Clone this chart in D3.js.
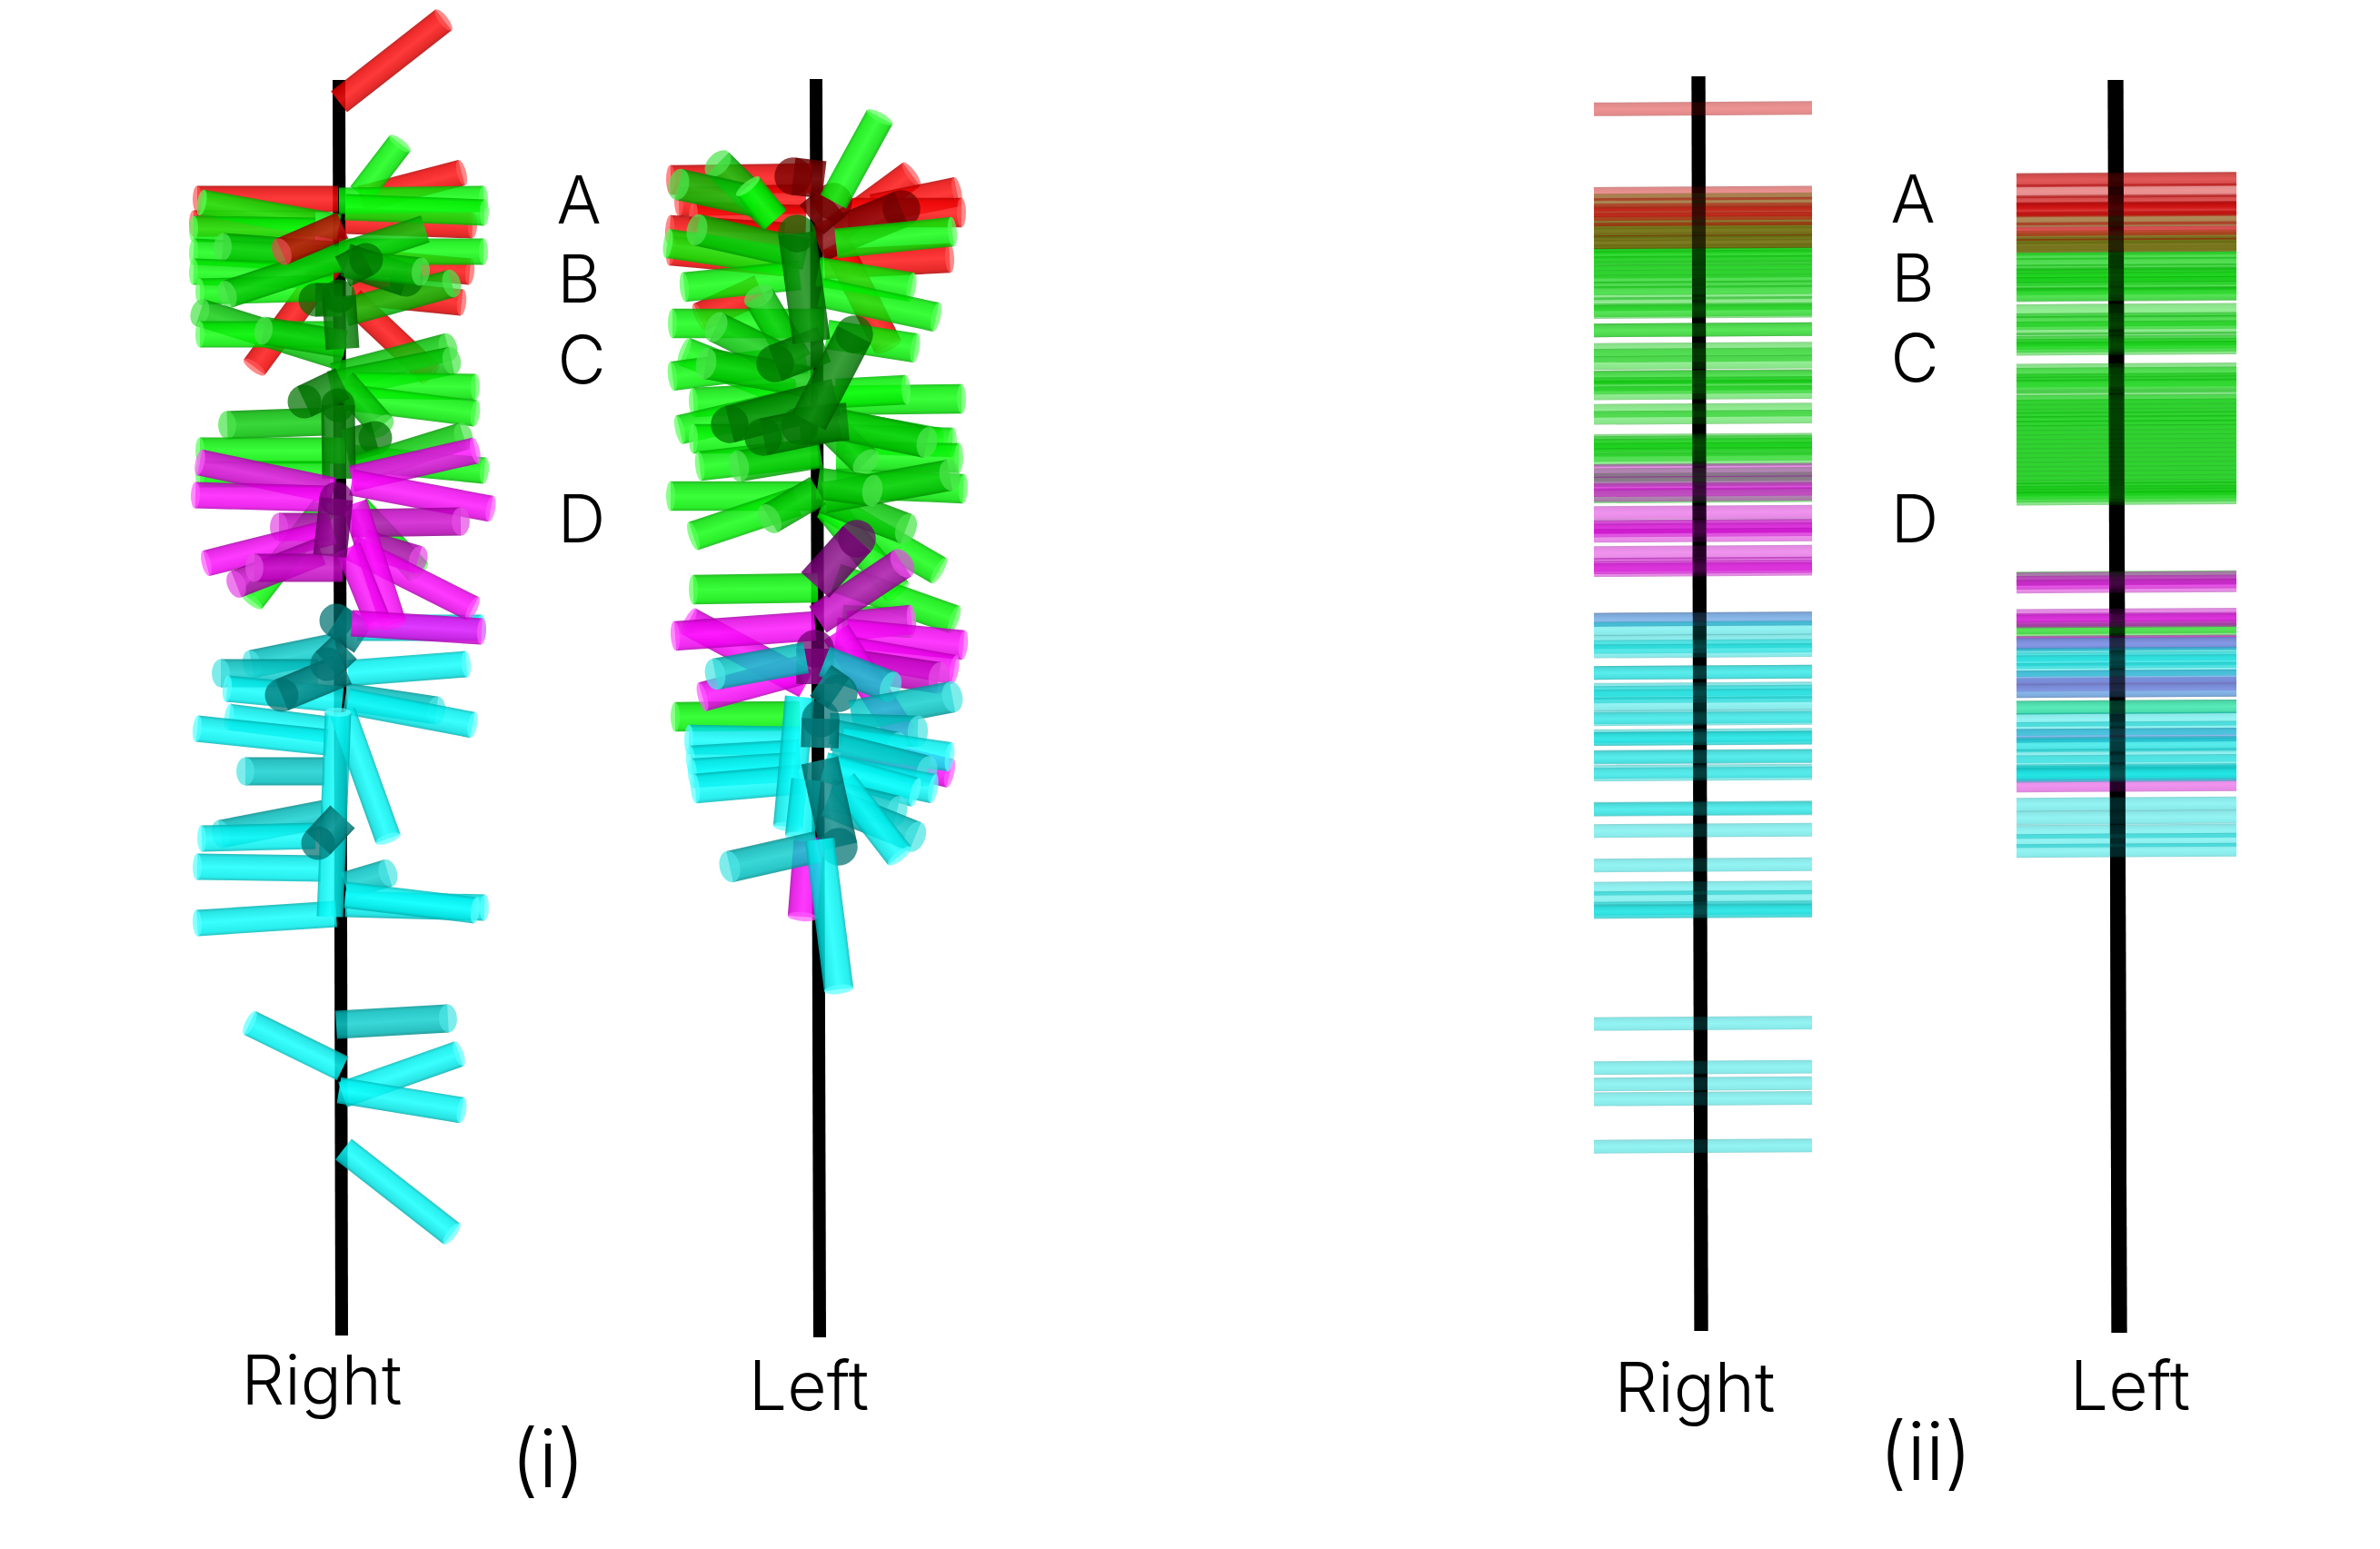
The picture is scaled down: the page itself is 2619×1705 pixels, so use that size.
<!DOCTYPE html>
<html>
<head>
<meta charset="utf-8">
<script src="https://cdn.jsdelivr.net/npm/d3@7"></script>
<style>
html, body { margin: 0; padding: 0; background: #fff; }
text { font-family: Inter, "Noto Sans", sans-serif; font-weight: 300; fill: #000; }
</style>
</head>
<body>
<script>
// Units: y = distance along the stem from the top, x = signed reach away from the stem.
// Each stalk is [tipX, tipY, baseX, baseY, facing], facing 0 = side on, 1 = tilted, 2 = towards the viewer.
const rightRed = [
    [113, -58, -2, 32, 0],
    [-158, 139, -3, 139, 0], [133, 110, 22, 139, 0], [-162, 166, -28, 166, 0], [145, 168, 5, 163, 0],
    [142, 219, 45, 210, 0], [133, 253, 12, 241, 0], [-95, 324, -8, 206, 0], [98, 331, 12, 250, 0]
];
const rightGreen = [
    [65, 78, 22, 134, 0], [157, 139, -2, 141, 0], [158, 154, 5, 148, 0], [-153, 143, -2, 170, 0],
    [-162, 172, -28, 174, 0], [-162, 197, 5, 206, 0], [-130, 192, -8, 201, 1], [157, 197, -2, 197, 0],
    [-162, 219, -8, 224, 0], [-155, 241, -8, 237, 0], [-125, 244, 93, 172, 1], [122, 232, 5, 264, 1],
    [72, 228, 5, 206, 2], [88, 219, 5, 210, 1], [-155, 264, 2, 313, 1], [-155, 288, -8, 288, 0],
    [-85, 284, 5, 299, 1], [118, 302, -8, 335, 1], [122, 317, -12, 344, 1], [148, 346, 18, 344, 0],
    [148, 375, 5, 357, 0], [-125, 388, -18, 384, 1], [-155, 416, 5, 416, 0], [158, 438, 12, 424, 0],
    [-155, 442, -12, 442, 0], [-98, 581, -18, 478, 0], [85, 549, 18, 478, 0], [45, 389, 2, 340, 1],
    [38, 402, 5, 411, 2], [135, 400, 12, 438, 1], [28, 206, 2, 219, 2], [-28, 250, 2, 250, 2],
    [-40, 362, 2, 342, 2], [-2, 246, 2, 304, 2], [-3, 366, -2, 447, 2]
];
const rightRedFront = [[-65, 197, 2, 168, 1]];
const rightMagenta = [
    [148, 416, 12, 447, 0], [-155, 429, -8, 460, 0], [-160, 465, -15, 469, 0], [165, 480, 12, 451, 0],
    [132, 494, 12, 496, 1], [-68, 500, -12, 500, 1], [-148, 540, -8, 505, 0], [85, 536, 25, 518, 1],
    [-115, 563, -22, 527, 1], [145, 590, 12, 523, 0], [58, 607, 15, 474, 0], [42, 607, 8, 523, 0],
    [155, 615, 12, 606, 0], [-95, 545, 2, 545, 1], [-5, 469, -12, 532, 2]
];
const rightCyan = [
    [155, 611, 18, 611, 0], [-98, 651, -5, 632, 1], [-132, 661, -25, 661, 1], [-125, 678, 2, 690, 0],
    [138, 651, 8, 661, 0], [105, 702, 5, 687, 1], [145, 718, 8, 692, 0], [-123, 709, -15, 723, 0],
    [-158, 722, -15, 737, 0], [-105, 769, -18, 769, 1], [-132, 838, -18, 816, 1], [-153, 843, -28, 840, 0],
    [-158, 874, -22, 876, 0], [52, 881, 5, 895, 1], [158, 919, 5, 915, 0], [148, 922, 5, 905, 0],
    [-158, 936, -5, 926, 0], [52, 843, 2, 704, 0], [-3, 704, -12, 929, 0], [-25, 848, 2, 819, 2],
    [-65, 685, 5, 656, 2], [-15, 651, 5, 632, 2], [-5, 603, 25, 623, 2], [118, 1041, -5, 1048, 1],
    [-100, 1046, 2, 1096, 0], [130, 1080, 2, 1125, 0], [133, 1142, -2, 1120, 0], [122, 1278, 3, 1185, 0]
];

const leftRed = [
    [-162, 118, -7, 116, 0], [103, 112, 20, 173, 0], [153, 131, 60, 150, 0], [158, 154, 33, 154, 0],
    [-153, 142, -13, 139, 0], [-137, 158, -13, 162, 0], [-163, 173, -37, 181, 0], [145, 204, 7, 211, 0],
    [-162, 196, -37, 208, 0], [-130, 269, -63, 238, 0], [77, 301, 20, 188, 0], [-27, 114, 7, 118, 2],
    [92, 150, 0, 188, 2], [17, 142, -7, 162, 2]
];
const leftGreen = [
    [68, 49, 17, 142, 0], [-110, 100, -47, 162, 1], [-153, 123, -67, 142, 1], [-77, 125, -47, 162, 0],
    [148, 175, 20, 188, 0], [-165, 188, -30, 208, 0], [-133, 173, -13, 200, 1], [-147, 236, -20, 223, 0],
    [103, 236, 0, 219, 0], [130, 269, 3, 242, 0], [-160, 276, 7, 276, 0], [107, 303, 10, 288, 0],
    [-147, 307, -30, 353, 0], [-160, 334, -13, 315, 0], [-137, 363, -23, 357, 0], [-152, 393, -13, 361, 0],
    [-137, 403, -37, 403, 0], [158, 359, 0, 361, 0], [97, 349, 20, 353, 0], [133, 407, 23, 387, 0],
    [148, 407, 27, 403, 0], [155, 424, 20, 422, 0], [-130, 433, 0, 418, 0], [-162, 466, -7, 466, 0],
    [160, 458, 20, 452, 0], [-137, 510, -23, 472, 0], [133, 548, 7, 475, 0], [87, 571, 12, 479, 0],
    [-137, 569, 0, 567, 0], [150, 602, 20, 556, 0], [103, 606, 27, 602, 0], [-157, 709, -20, 708, 0],
    [-65, 246, -23, 318, 1], [-112, 280, -40, 315, 1], [-123, 320, -7, 341, 1], [97, 502, 7, 468, 1],
    [53, 429, 7, 384, 1], [120, 407, 23, 387, 1], [-87, 433, 3, 418, 1], [145, 443, 7, 468, 1],
    [60, 460, 0, 452, 1], [-53, 491, 0, 460, 1], [-97, 387, 20, 357, 2], [-60, 401, 23, 384, 2],
    [-20, 389, 33, 384, 2], [-47, 320, 7, 299, 2], [-23, 177, -7, 296, 2], [40, 288, -10, 384, 2]
];
const leftMagenta = [
    [103, 602, 33, 609, 0], [-142, 604, -13, 673, 0], [-157, 620, -3, 609, 0], [160, 630, 20, 616, 0],
    [150, 657, 37, 637, 0], [133, 666, 13, 648, 1], [-127, 687, -20, 658, 0], [93, 540, 0, 602, 1],
    [93, 729, 20, 616, 0], [145, 771, 27, 743, 0], [-17, 929, -10, 841, 0], [43, 513, -3, 564, 2],
    [-3, 634, -3, 673, 2]
];
const leftCyan = [
    [-113, 662, -13, 644, 1], [80, 676, 7, 648, 1], [23, 683, 3, 669, 2], [148, 687, 37, 708, 1],
    [-142, 734, -20, 736, 0], [-140, 757, -20, 750, 0], [-138, 771, -23, 764, 0], [-135, 788, -20, 778, 0],
    [110, 725, 13, 722, 1], [87, 743, 17, 729, 1], [145, 753, 27, 736, 0], [120, 769, 17, 743, 1],
    [127, 788, 17, 767, 0], [107, 792, 7, 764, 0], [-33, 830, -20, 687, 0], [-20, 841, -13, 778, 0],
    [87, 813, 13, 795, 1], [107, 841, 10, 802, 1], [90, 862, 27, 781, 0], [23, 852, 2, 757, 2],
    [-97, 874, 0, 852, 1], [3, 711, 2, 743, 2], [23, 1009, 2, 844, 0]
];

const ladderRightRed = [39.6, 132.8, 145, 151, 155, 161, 172, 186];
const ladderRightGreen = [139.9, 153.6, 164.7, 168.4, 173.9, 177.6, 183.2, 186.9, 191, 196.1, 199.8, 202.8, 209, 214.6, 218.3, 223.9, 229.4, 236.8, 242, 254.2, 260.9, 262.7, 283, 283, 304.5, 310.8, 318.9, 334.5, 335.2, 342.3, 346, 352.2, 371.5, 379.3, 404.8, 407, 410, 414.4, 420, 425.5, 442.2, 447.7, 465.8];
const ladderRightMagenta = [437.7, 451.4, 458.8, 464.4, 484, 499.1, 499.5, 503.2, 509.1, 528, 541, 543.9, 546.9, 601.5];
const ladderRightCyan = [601.5, 611.5, 626, 631.4, 636.3, 660, 660, 678.6, 682, 686, 694.4, 708.9, 711, 729.6, 732.5, 732.9, 752.4, 753.3, 769, 771.9, 809.6, 810.5, 834, 872, 897.5, 907.9, 919.5, 922.4, 923.2, 1046.4, 1094.9, 1113, 1129.3, 1181.5];

const ladderLeftRed = [117.3, 118, 130, 141.7, 143.3, 149.3, 150, 151, 160, 171.7, 176.7, 190];
const ladderLeftGreen = [161.7, 180.7, 183.3, 188.3, 193.3, 198, 205, 211, 218.3, 221.7, 223.3, 226.7, 232, 237, 243.3, 244.3, 261.7, 271.7, 275, 280.7, 293.3, 296.7, 300, 303.3, 327.3, 331.7, 338.3, 341.7, 345, 356.7, 361.7, 366.7, 371.7, 376.7, 380.7, 385, 390, 395, 400, 405, 410, 415, 420, 425, 430, 435, 440, 445, 450, 455, 458.3, 461.7, 465, 468.3, 556, 610, 613.3, 698.3];
const ladderLeftMagenta = [556.7, 560.7, 565, 597.3, 601.7, 603.3, 626.7, 628.3, 665, 673.3, 680, 729.3, 784];
const ladderLeftCyan = [629.3, 640, 645, 648.3, 656.7, 665, 680, 698.3, 711.7, 721.7, 729.3, 738.3, 740, 751.7, 758.3, 768.3, 770, 771.7, 773.3, 805, 819.7, 835, 845, 856];

const groupLabels = ['A', 'B', 'C', 'D'];
const plantLabels = ['Right', 'Left'];
const panelLabels = ['(i)', '(ii)'];

const width = 2619, height = 1705;
const colors = { red: [255, 0, 0], green: [0, 255, 0], magenta: [255, 0, 255], cyan: [0, 255, 255] };
const ladderColors = { red: [212, 0, 0], green: [0, 216, 0], magenta: [218, 0, 218], cyan: [0, 228, 228] };
const shade = [1, 0.8, 0.52];
const stalkWidth = [29, 31, 37];

const svg = d3.select('body')
    .append('svg')
    .attr('width', width)
    .attr('height', height)
    .style('display', 'block');

const defs = svg.append('defs');

const yScale = d3.scaleLinear().domain([0, 1400]).range([80, 1480]);

function rgb(c, k) {
    return 'rgb(' + c.map(function(v) { return Math.round(v * k); }).join(',') + ')';
}

function lighter(c, k, mix) {
    return 'rgb(' + c.map(function(v) { return Math.round(v * k + (255 - v * k) * mix); }).join(',') + ')';
}

function addGradient(id, c, k) {
    const g = defs.append('linearGradient')
        .attr('id', id)
        .attr('x1', 0).attr('y1', 0).attr('x2', 0).attr('y2', 1);
    g.append('stop').attr('offset', '0%').attr('stop-color', rgb(c, k * 0.68));
    g.append('stop').attr('offset', '12%').attr('stop-color', rgb(c, k * 0.88));
    g.append('stop').attr('offset', '50%').attr('stop-color', lighter(c, k, 0.08));
    g.append('stop').attr('offset', '88%').attr('stop-color', rgb(c, k * 0.92));
    g.append('stop').attr('offset', '100%').attr('stop-color', rgb(c, k * 0.72));
}

Object.keys(colors).forEach(function(name) {
    shade.forEach(function(k, i) {
        addGradient('stalk-' + name + '-' + i, colors[name], k);
    });
    addGradient('ladder-' + name, ladderColors[name], 1);
});

function drawStem(x, top, bottom, lean, stemWidth, opacity) {
    const line = d3.line()
        .x(function(d) { return x(d[0]); })
        .y(function(d) { return yScale(d[1]); });
    svg.append('path')
        .attr('d', line([[lean[0], top], [lean[1], bottom]]))
        .attr('fill', 'none')
        .attr('stroke', '#000')
        .attr('stroke-opacity', opacity)
        .attr('stroke-width', stemWidth);
}

function drawStalks(x, rows, thick) {
    function w(d) {
        return stalkWidth[d.row[4]] * thick;
    }
    function length(d) {
        return Math.hypot(x(d.row[2]) - x(d.row[0]), yScale(d.row[3]) - yScale(d.row[1]));
    }

    const stalk = svg.append('g')
        .selectAll('g')
        .data(rows)
        .enter()
        .append('g')
        .attr('transform', function(d) {
            const x1 = x(d.row[0]), y1 = yScale(d.row[1]), x2 = x(d.row[2]), y2 = yScale(d.row[3]);
            const angle = Math.atan2(y2 - y1, x2 - x1) * 180 / Math.PI;
            return 'translate(' + x1 + ',' + y1 + ') rotate(' + angle + ')';
        });

    stalk.append('rect')
        .attr('x', 0)
        .attr('y', function(d) { return -w(d) / 2; })
        .attr('width', length)
        .attr('height', w)
        .attr('fill', function(d) { return 'url(#stalk-' + d.name + '-' + d.row[4] + ')'; })
        .attr('fill-opacity', 0.84);

    stalk.filter(function(d) { return d.row[4] > 0; })
        .append('ellipse')
        .attr('rx', function(d) { return w(d) * (d.row[4] === 2 ? 0.5 : 0.32); })
        .attr('ry', function(d) { return w(d) / 2; })
        .attr('fill', function(d) {
            return d.row[4] === 2 ? rgb(colors[d.name], 0.44) : lighter(colors[d.name], 0.85, 0.3);
        })
        .attr('fill-opacity', 0.72);

    stalk.filter(function(d) { return d.row[4] === 0; })
        .append('ellipse')
        .attr('rx', 5)
        .attr('ry', function(d) { return w(d) / 2; })
        .attr('fill', function(d) { return lighter(colors[d.name], 1, 0.35); })
        .attr('fill-opacity', 0.7);
}

function stalkRows(groups) {
    const rows = [];
    groups.forEach(function(g) {
        g[1].forEach(function(row) { rows.push({ name: g[0], row: row }); });
    });
    return rows;
}

function drawLadder(x, groups, reach) {
    const rows = [];
    groups.forEach(function(g) {
        g[1].forEach(function(v) { rows.push({ name: g[0], v: v }); });
    });
    const bandWidth = x(reach[1]) - x(reach[0]);
    const tilt = -Math.atan2(1.5, bandWidth) * 180 / Math.PI;
    svg.append('g')
        .selectAll('rect')
        .data(rows)
        .enter()
        .append('rect')
        .attr('x', x(reach[0]))
        .attr('y', function(d) { return yScale(d.v) - 7.5; })
        .attr('width', bandWidth)
        .attr('height', 15)
        .attr('transform', function(d) {
            return 'rotate(' + tilt + ',' + x(0) + ',' + yScale(d.v) + ')';
        })
        .attr('fill', function(d) { return 'url(#ladder-' + d.name + ')'; })
        .attr('fill-opacity', 0.46);
}

function panelScale(center) {
    return d3.scaleLinear().domain([-170, 170]).range([center - 170, center + 170]);
}

// panel (i)
const x1 = panelScale(375);
drawStem(x1, 8, 1390, [-2, 1], 14, 1);
drawStalks(x1, stalkRows([['red', rightRed], ['green', rightGreen], ['red', rightRedFront], ['cyan', rightCyan], ['magenta', rightMagenta]]), 1);

const x2 = panelScale(900);
drawStem(x2, 7, 1392, [-2, 2], 14, 1);
drawStalks(x2, stalkRows([['red', leftRed], ['green', leftGreen], ['magenta', leftMagenta], ['cyan', leftCyan]]), 1.12);

// panel (ii)
const x3 = panelScale(1870);
drawStem(x3, 4, 1385, [-1, 2], 15, 1);
drawLadder(x3, [['green', ladderRightGreen], ['red', ladderRightRed], ['magenta', ladderRightMagenta], ['cyan', ladderRightCyan]], [-116, 124]);
drawStem(x3, 4, 1385, [-1, 2], 15, 0.62);

const x4 = panelScale(2330);
drawStem(x4, 8, 1387, [-2, 2], 17, 1);
drawLadder(x4, [['green', ladderLeftGreen], ['red', ladderLeftRed], ['magenta', ladderLeftMagenta], ['cyan', ladderLeftCyan]], [-111, 131]);
drawStem(x4, 8, 1387, [-2, 2], 17, 0.62);

// labels
const textLayer = svg.append('g').attr('text-anchor', 'middle');

function addLabel(text, cx, cy, size) {
    textLayer.append('text')
        .attr('x', cx)
        .attr('y', cy)
        .attr('dy', '0.36em')
        .attr('font-size', size)
        .text(text);
}

[[637, 220], [637, 307], [640, 396], [640, 571]].forEach(function(p, i) {
    addLabel(groupLabels[i], p[0], p[1], 73);
});
[[2105, 219], [2105, 306], [2107, 394], [2107, 571]].forEach(function(p, i) {
    addLabel(groupLabels[i], p[0], p[1], 73);
});
addLabel(plantLabels[0], 354, 1519, 75);
addLabel(plantLabels[1], 890, 1525, 75);
addLabel(plantLabels[0], 1865, 1527, 75);
addLabel(plantLabels[1], 2344, 1525, 75);
addLabel(panelLabels[0], 603, 1605, 88);
addLabel(panelLabels[1], 2119, 1597, 88);
</script>
</body>
</html>
